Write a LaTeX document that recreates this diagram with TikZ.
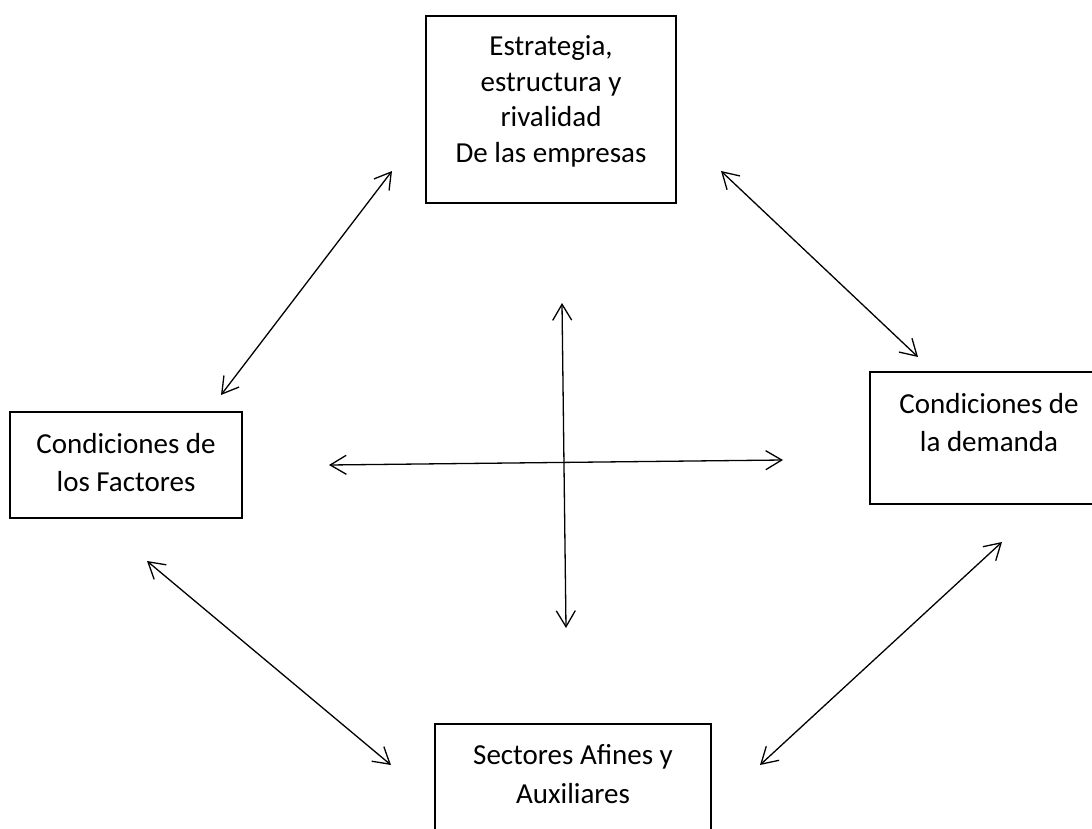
\documentclass[tikz,border=0pt]{standalone}
\usepackage{fontspec}
\setmainfont{Carlito}
\usetikzlibrary{arrows.meta}
\begin{document}
\begin{tikzpicture}[x=1pt,y=-1pt,
  frame/.style={draw=black,line width=1.4pt,inner sep=0pt},
  lbl/.style={align=center,inner sep=0pt,font=\fontsize{29}{38.5}\selectfont},
  lbltop/.style={align=center,inner sep=0pt,font=\fontsize{29}{35.7}\selectfont},
  link/.style={line width=1.3pt,{Straight Barb[length=16pt,width=19pt,line width=1.3pt]}-{Straight Barb[length=16pt,width=19pt,line width=1.3pt]}}]
\useasboundingbox (0,0) rectangle (1092,829);
\clip (0,0) rectangle (1092,829);
\fill[white] (0,0) rectangle (1092,829);
% boxes
\node[frame,minimum width=250pt,minimum height=187pt] (est) at (551,109.5) {};
\node[frame,minimum width=232pt,minimum height=106pt] (fac) at (126,465) {};
\node[frame,minimum width=238pt,minimum height=132pt] (dem) at (989,438) {};
\node[frame,minimum width=276pt,minimum height=136pt] (sec) at (573,792) {};
% texts
\node[lbltop] (estT) at (551,101.5) {Estrategia,\\estructura y\\rivalidad\\De las empresas};
\node[lbl] (facT) at (126,462.5) {Condiciones de\\los Factores};
\node[lbl] (demT) at (989,422.5) {Condiciones de\\la demanda};
\node[lbl] (secT) at (573,774) {Sectores Afines y\\Auxiliares};
% arrow end points
\coordinate (a1s) at (392,171); \coordinate (a1e) at (221,395);
\coordinate (a2s) at (721,171); \coordinate (a2e) at (918,357);
\coordinate (a3s) at (147,561); \coordinate (a3e) at (391,765);
\coordinate (a4s) at (1002,542); \coordinate (a4e) at (760,765);
\coordinate (a5s) at (562,303); \coordinate (a5e) at (566,628);
\coordinate (a6s) at (329,465); \coordinate (a6e) at (783,460);
\draw[link] (a1s) -- (a1e);
\draw[link] (a2s) -- (a2e);
\draw[link] (a3s) -- (a3e);
\draw[link] (a4s) -- (a4e);
\draw[link] (a5s) -- (a5e);
\draw[link] (a6s) -- (a6e);
\end{tikzpicture}
\end{document}
